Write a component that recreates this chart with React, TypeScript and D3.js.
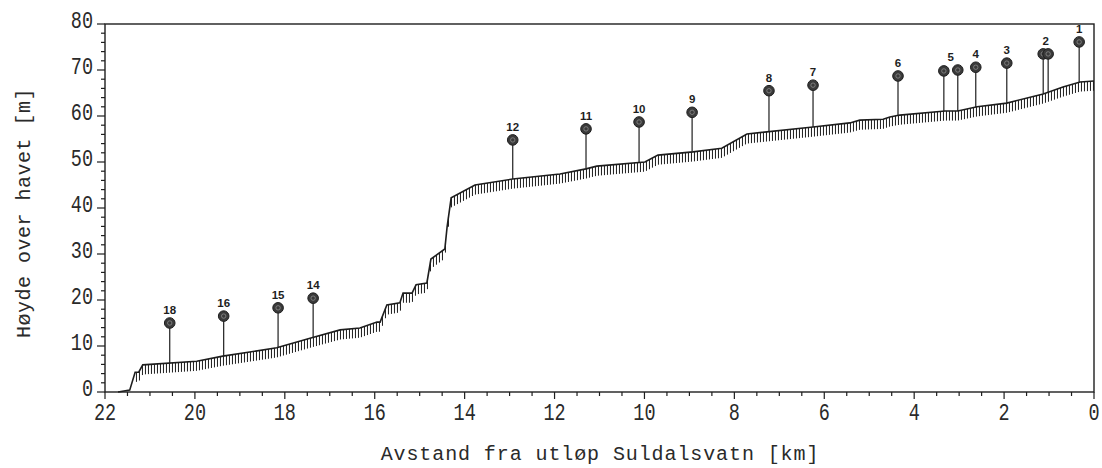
import React from "react";
import * as d3 from "d3";

// Riverbed profile (distance from outlet in km, elevation in m)
const profileKm = [21.71, 21.45, 21.33, 21.25, 21.16, 19.96, 19.38, 18.78, 18.18, 17.44, 16.77, 16.33, 15.95, 15.88, 15.73, 15.44, 15.37, 15.17, 15.08, 14.84, 14.75, 14.44, 14.39, 14.3, 13.77, 12.93, 11.88, 11.3, 11.06, 9.99, 9.7, 8.92, 8.28, 7.72, 6.25, 5.43, 5.21, 4.69, 4.54, 4.32, 3.31, 3.03, 2.6, 1.94, 1.13, 0.69, 0.31, 0.0];
const profileM = [0, 0.4, 4.3, 4.3, 5.9, 6.7, 7.8, 8.7, 9.6, 11.7, 13.5, 13.9, 15.2, 15.2, 18.9, 19.4, 21.5, 21.5, 23.3, 23.7, 28.9, 31.1, 35.9, 42.2, 45.0, 46.3, 47.4, 48.5, 49.1, 50.0, 51.5, 52.2, 53.0, 56.1, 57.6, 58.5, 59.1, 59.3, 59.8, 60.2, 61.1, 61.1, 62.0, 62.8, 64.8, 66.3, 67.4, 67.6];

// Stations (water level markers)
const stationIds = ["18", "16", "15", "14", "12", "11", "10", "9", "8", "7", "6", "5", "5", "4", "3", "2", "2", "1"];
const stationKm = [20.56, 19.36, 18.15, 17.37, 12.93, 11.3, 10.12, 8.94, 7.23, 6.25, 4.36, 3.34, 3.03, 2.63, 1.94, 1.13, 1.02, 0.33];
const stationM = [15.0, 16.5, 18.3, 20.4, 54.8, 57.2, 58.7, 60.8, 65.5, 66.7, 68.7, 69.8, 70.0, 70.6, 71.5, 73.5, 73.5, 76.1];

const xTicksMajor = [22, 20, 18, 16, 14, 12, 10, 8, 6, 4, 2, 0];
const yTicksMajor = [0, 10, 20, 30, 40, 50, 60, 70, 80];

const xTitle = "Avstand fra utløp Suldalsvatn [km]";
const yTitle = "Høyde over havet [m]";

const W = 1102;
const H = 468;
const L = 105, R = 1094, T = 24, B = 392;
const INK = "#1e1e1e";
const TXT = "#2a2a2a";
const tickFont = "'Liberation Mono', 'DejaVu Sans Mono', monospace";

export default function App() {
  const x = d3.scaleLinear().domain([22, 0]).range([L, R]);
  const y = d3.scaleLinear().domain([0, 80]).range([B, T]);

  const pts: [number, number][] = profileKm.map((k, i) => [k, profileM[i]]);
  const line = d3.line<[number, number]>().x((d) => x(d[0])).y((d) => y(d[1]));

  // elevation of the bed at a given km (linear between surveyed points)
  const bedAt = (k: number) => {
    for (let i = 0; i < pts.length - 1; i++) {
      const [k0, m0] = pts[i];
      const [k1, m1] = pts[i + 1];
      if (k <= k0 && k >= k1) {
        const t = k0 === k1 ? 0 : (k0 - k) / (k0 - k1);
        return m0 + t * (m1 - m0);
      }
    }
    return pts[pts.length - 1][1];
  };

  // hatch ticks below the bed
  const hatchX = d3.range(x(21.3), R + 0.1, 3.0);
  const hatchLen = y(0) - y(2.1);

  const xMinor = d3.range(0, 22.01, 0.5);
  const yMinor = d3.range(0, 80.01, 2);

  // label groups
  const groups = Array.from(d3.group(stationIds.map((id, i) => ({ id, i })), (d) => d.id).entries()).map(([id, arr]) => ({
    id,
    cx: d3.mean(arr, (d) => x(stationKm[d.i])) as number,
    cy: d3.min(arr, (d) => y(stationM[d.i])) as number,
  }));

  return (
    <svg width={W} height={H} style={{ position: "absolute", left: 0, top: 0, background: "#fff" }}>
      <rect x={0} y={0} width={W} height={H} fill="#fff" />
      {/* frame */}
      <rect x={L} y={T} width={R - L} height={B - T} fill="none" stroke={INK} strokeWidth={1.4} />

      {/* x ticks */}
      {xMinor.map((k) => {
        const major = Math.abs(k - Math.round(k / 2) * 2) < 1e-6;
        return <line key={"xm" + k} x1={x(k)} x2={x(k)} y1={B} y2={B + (major ? 7 : 4)} stroke={INK} strokeWidth={1.2} />;
      })}
      {xTicksMajor.map((k) => (
        <text
          key={"xt" + k}
          transform={`translate(${x(k)},420) scale(1,1.25)`}
          textAnchor="middle"
          fontFamily={tickFont}
          fontSize={18.5}
          fill={TXT}
        >
          {k}
        </text>
      ))}

      {/* y ticks */}
      {yMinor.map((m) => {
        const major = m % 10 === 0;
        return <line key={"ym" + m} x1={L - (major ? 8 : 4)} x2={L} y1={y(m)} y2={y(m)} stroke={INK} strokeWidth={1.2} />;
      })}
      {yTicksMajor.map((m) => (
        <text
          key={"yt" + m}
          transform={`translate(93,${y(m) + 4}) scale(1,1.25)`}
          textAnchor="end"
          fontFamily={tickFont}
          fontSize={18.5}
          fill={TXT}
        >
          {m}
        </text>
      ))}

      {/* titles */}
      <text x={600} y={460} textAnchor="middle" fontFamily={tickFont} fontSize={20} letterSpacing={0.9} fill={TXT}>
        {xTitle}
      </text>
      <text
        transform={`translate(30,213) rotate(-90)`}
        textAnchor="middle"
        fontFamily={tickFont}
        fontSize={20}
        letterSpacing={0.5}
        fill={TXT}
      >
        {yTitle}
      </text>

      {/* hatch */}
      {hatchX.map((px, i) => {
        const by = y(bedAt(x.invert(px)));
        return <line key={"h" + i} x1={px} x2={px} y1={by} y2={by + hatchLen} stroke={INK} strokeWidth={1} />;
      })}

      {/* bed profile */}
      <path d={line(pts) || ""} fill="none" stroke={INK} strokeWidth={1.6} />

      {/* station stems and markers */}
      {stationIds.map((id, i) => {
        const cx = x(stationKm[i]);
        const cy = y(stationM[i]);
        const by = y(bedAt(stationKm[i]));
        return (
          <g key={"s" + i}>
            <line x1={cx} x2={cx} y1={cy} y2={by} stroke={INK} strokeWidth={1.2} />
            <circle cx={cx} cy={cy} r={5.3} fill="#3a3a3a" stroke={INK} strokeWidth={1} />
            <circle cx={cx} cy={cy} r={2.2} fill="none" stroke="#8a8a8a" strokeWidth={0.8} />
          </g>
        );
      })}
      {groups.map((g) => (
        <text
          key={"l" + g.id}
          x={g.cx}
          y={g.cy - 9}
          textAnchor="middle"
          fontFamily="'Liberation Sans', Arial, sans-serif"
          fontWeight="bold"
          fontSize={11.5}
          fill={INK}
        >
          {g.id}
        </text>
      ))}
    </svg>
  );
}
